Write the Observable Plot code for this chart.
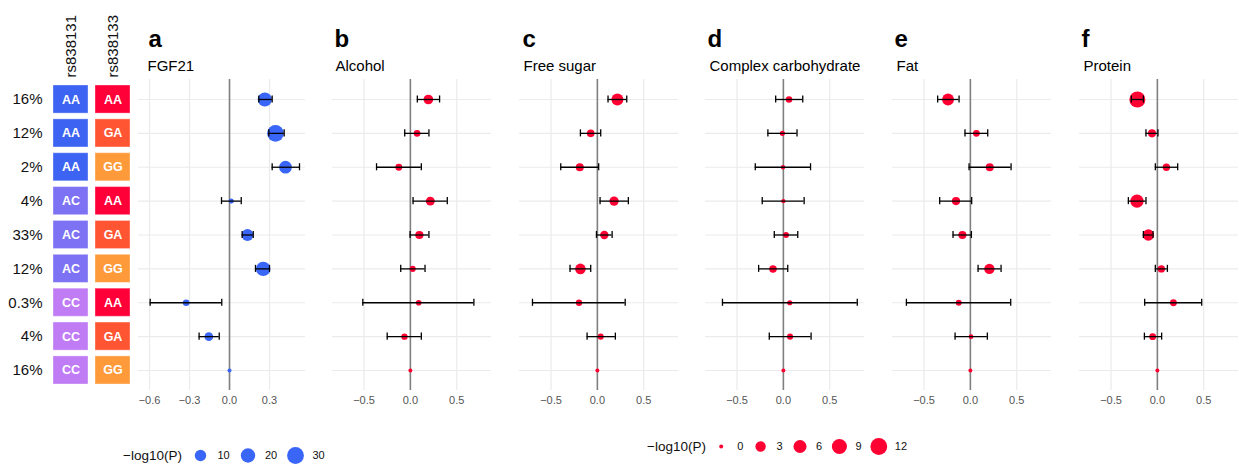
<!DOCTYPE html>
<html>
<head>
<meta charset="utf-8">
<script src="https://cdn.jsdelivr.net/npm/d3@7"></script>
<script src="https://cdn.jsdelivr.net/npm/@observablehq/plot@0.6"></script>
<style>
  html, body { margin: 0; padding: 0; background: #fff; }
  #root { position: relative; width: 1239px; height: 466px; overflow: hidden; background: #fff;
          font-family: "Liberation Sans", Arial, Helvetica, sans-serif; }
  #root svg { position: absolute; top: 0; }
</style>
</head>
<body>
<div id="root"></div>
<script>
// ---------------- data ----------------
const pct = ["16%", "12%", "2%", "4%", "33%", "12%", "0.3%", "4%", "16%"];
const rs838131 = ["AA", "AA", "AA", "AC", "AC", "AC", "CC", "CC", "CC"];
const rs838133 = ["AA", "GA", "GG", "AA", "GA", "GG", "AA", "GA", "GG"];
const snps = ["rs838131", "rs838133"];
const letters = ["a", "b", "c", "d", "e", "f"];
const traits = ["FGF21", "Alcohol", "Free sugar", "Complex carbohydrate", "Fat", "Protein"];

const fgf21Beta = [0.265, 0.345, 0.42, 0.013, 0.135, 0.253, -0.325, -0.155, 0];
const fgf21Lo   = [0.22, 0.295, 0.32, -0.06, 0.095, 0.195, -0.595, -0.228, null];
const fgf21Hi   = [0.32, 0.41, 0.525, 0.088, 0.178, 0.30, -0.058, -0.077, null];
const fgf21P    = [19, 30, 14, 0.2, 11, 20, 1.3, 4, 0];

const alcoholBeta = [0.194, 0.072, -0.125, 0.215, 0.097, 0.025, 0.09, -0.064, 0];
const alcoholLo   = [0.075, -0.061, -0.365, 0.029, -0.003, -0.104, -0.513, -0.25, null];
const alcoholHi   = [0.315, 0.2, 0.118, 0.398, 0.2, 0.158, 0.685, 0.118, null];
const alcoholP    = [2.4, 0.6, 0.6, 1.8, 1.3, 0.3, 0.2, 0.4, 0];

const sugarBeta = [0.216, -0.072, -0.19, 0.18, 0.075, -0.183, -0.198, 0.036, 0];
const sugarLo   = [0.115, -0.183, -0.395, 0.029, -0.01, -0.295, -0.70, -0.111, null];
const sugarHi   = [0.317, 0.036, 0.014, 0.334, 0.159, -0.072, 0.30, 0.194, null];
const sugarP    = [4.7, 1.0, 1.2, 2.0, 1.4, 3.2, 0.4, 0.3, 0];

const carbBeta = [0.061, -0.011, -0.004, 0.0, 0.029, -0.112, 0.069, 0.072, 0];
const carbLo   = [-0.083, -0.167, -0.303, -0.228, -0.098, -0.267, -0.657, -0.152, null];
const carbHi   = [0.209, 0.147, 0.293, 0.224, 0.155, 0.047, 0.797, 0.299, null];
const carbP    = [0.5, 0.1, 0.02, 0.01, 0.25, 0.9, 0.1, 0.3, 0];

const fatBeta = [-0.241, 0.065, 0.209, -0.155, -0.086, 0.205, -0.126, 0.007, 0];
const fatLo   = [-0.353, -0.058, -0.014, -0.331, -0.187, 0.083, -0.69, -0.165, null];
const fatHi   = [-0.122, 0.187, 0.439, 0.014, 0.011, 0.331, 0.435, 0.183, null];
const fatP    = [4.5, 0.6, 1.2, 1.3, 1.2, 3.0, 0.25, 0.05, 0];

const proteinBeta = [-0.216, -0.058, 0.097, -0.22, -0.097, 0.043, 0.173, -0.051, 0];
const proteinLo   = [-0.281, -0.123, -0.022, -0.313, -0.151, -0.022, -0.137, -0.14, null];
const proteinHi   = [-0.151, 0.006, 0.219, -0.123, -0.047, 0.108, 0.478, 0.046, null];
const proteinP    = [10.5, 1.2, 0.85, 6.4, 4.0, 0.8, 0.6, 0.6, 0];

const ticksA = [-0.6, -0.3, 0.0, 0.3];
const ticksB = [-0.5, 0.0, 0.5];
const legendA = [10, 20, 30];
const legendB = [0, 3, 6, 9, 12];
const legendTitle = "\u2212log10(P)";

// ---------------- styling ----------------
const FONT = '"Liberation Sans", Arial, Helvetica, sans-serif';
const BLUE = "#3a66f7";
const RED = "#ff0033";
const genoColor = {
  rs838131: {AA: "#3d63f2", AC: "#7d72f4", CC: "#c07cf5"},
  rs838133: {AA: "#ff0038", GA: "#ff5533", GG: "#ff9a3a"}
};
const root = document.getElementById("root");
function place(svg, left, top) {
  svg.style.position = "absolute";
  svg.style.left = left + "px";
  svg.style.top = top + "px";
  root.appendChild(svg);
}
const rowIdx = d3.range(pct.length);

// ---------------- genotype table ----------------
const cells = [];
rowIdx.forEach(i => {
  cells.push({snp: "rs838131", row: i, g: rs838131[i], color: genoColor.rs838131[rs838131[i]]});
  cells.push({snp: "rs838133", row: i, g: rs838133[i], color: genoColor.rs838133[rs838133[i]]});
});
const geno = Plot.plot({
  width: 135, height: 466,
  marginLeft: 53, marginRight: 5, marginTop: 85, marginBottom: 82,
  style: {fontFamily: FONT, fontSize: "15px", color: "#111", background: "transparent", overflow: "visible"},
  color: {type: "identity"},
  x: {type: "band", domain: snps, paddingInner: 0.167, paddingOuter: 0, round: false, axis: "top",
      tickRotate: -90, tickSize: 0, tickPadding: 8, label: null},
  y: {type: "band", domain: rowIdx, paddingInner: 0.17, paddingOuter: 0, round: false,
      tickFormat: i => pct[i], tickSize: 0, tickPadding: 11, label: null},
  marks: [
    Plot.cell(cells, {x: "snp", y: "row", fill: "color", inset: 0, stroke: "#ffffff", strokeOpacity: 0.35, strokeWidth: 1}),
    Plot.text(cells, {x: "snp", y: "row", text: "g", fill: "white", fontWeight: "bold", fontSize: 12.5})
  ]
});
place(geno, 0, 0);

// ---------------- forest panels ----------------
const betas = [fgf21Beta, alcoholBeta, sugarBeta, carbBeta, fatBeta, proteinBeta];
const los = [fgf21Lo, alcoholLo, sugarLo, carbLo, fatLo, proteinLo];
const his = [fgf21Hi, alcoholHi, sugarHi, carbHi, fatHi, proteinHi];
const ps = [fgf21P, alcoholP, sugarP, carbP, fatP, proteinP];

const panelLeft = [138, 332, 518.5, 705, 892, 1079];
const panelWidth = [167, 159, 159, 159, 159, 159];
const letterDx = [10, 2, 3, 2, 2, 2];
const titleDx = [9, 3, 4, 4, 4, 4];

function panel(i) {
  const isA = i === 0;
  const data = rowIdx.map(k => ({row: k, beta: betas[i][k], lo: los[i][k], hi: his[i][k], p: ps[i][k]}));
  const err = data.filter(d => d.lo != null);
  const ticks = isA ? ticksA : ticksB;
  const domain = isA ? [-0.6825, 0.570] : [-0.84, 0.875];
  const ML = 10;
  const svg = Plot.plot({
    width: panelWidth[i] + ML, height: 466,
    marginLeft: ML, marginRight: 0, marginTop: 79, marginBottom: 76,
    style: {fontFamily: FONT, fontSize: "11px", color: "#555", background: "transparent", overflow: "visible"},
    x: {domain, ticks, tickFormat: d3.format(".1f"), tickSize: 0, tickPadding: 6, label: null},
    y: {type: "band", domain: rowIdx, paddingInner: 0, paddingOuter: 0.09, round: false, axis: null},
    r: {type: "sqrt", domain: isA ? [0, 30] : [0, 12], range: [2, 8.4]},
    marks: [
      Plot.ruleX(ticks, {x: d => d, stroke: "#ebebeb", strokeWidth: 1.2}),
      Plot.ruleY(rowIdx, {y: d => d, stroke: "#ebebeb", strokeWidth: 1.2}),
      Plot.ruleX([0], {x: d => d, stroke: "#808080", strokeWidth: 1.6}),
      Plot.dot(data, {x: "beta", y: "row", r: "p", fill: isA ? BLUE : RED, stroke: "none"}),
      Plot.ruleY(err, {y: "row", x1: "lo", x2: "hi", stroke: "black", strokeWidth: 1.3}),
      Plot.tickX(err, {x: "lo", y: "row", insetTop: 13.4, insetBottom: 13.4, stroke: "black", strokeWidth: 1.3}),
      Plot.tickX(err, {x: "hi", y: "row", insetTop: 13.4, insetBottom: 13.4, stroke: "black", strokeWidth: 1.3}),
      Plot.text([letters[i]], {frameAnchor: "top-left", dx: letterDx[i], dy: 46 - 79, lineAnchor: "bottom",
        textAnchor: "start", fontSize: 24, fontWeight: "bold", fill: "black"}),
      Plot.text([traits[i]], {frameAnchor: "top-left", dx: titleDx[i], dy: 70 - 79, lineAnchor: "bottom",
        textAnchor: "start", fontSize: 15, fill: "black"})
    ]
  });
  place(svg, panelLeft[i] - ML, 0);
}
for (let i = 0; i < 6; i++) panel(i);

// ---------------- size legends ----------------
function legend(values, domainMax, color, range, titleX, dx, top, width) {
  const svg = Plot.plot({
    width, height: 50, margin: 0,
    style: {fontFamily: FONT, fontSize: "11px", color: "#111", background: "transparent", overflow: "visible"},
    x: {type: "point", domain: values, range, padding: 0, round: false, axis: null},
    r: {type: "sqrt", domain: [0, domainMax], range: [2, 8.4]},
    marks: [
      Plot.dot(values, {x: d => d, r: d => d, fill: color, stroke: "none"}),
      Plot.text(values, {x: d => d, text: d => String(d), dx, textAnchor: "start", fontSize: 11, fill: "#111"}),
      Plot.text([legendTitle], {frameAnchor: "left", dx: titleX, textAnchor: "start", fontSize: 13.5, fill: "#111"})
    ]
  });
  place(svg, 0, top);
}
legend(legendA, 30, BLUE, [200, 295], 122.5, 17, 430, 400);
legend(legendB, 12, RED, [720.7, 878.3], 646.5, 16, 421, 950);
</script>
</body>
</html>
